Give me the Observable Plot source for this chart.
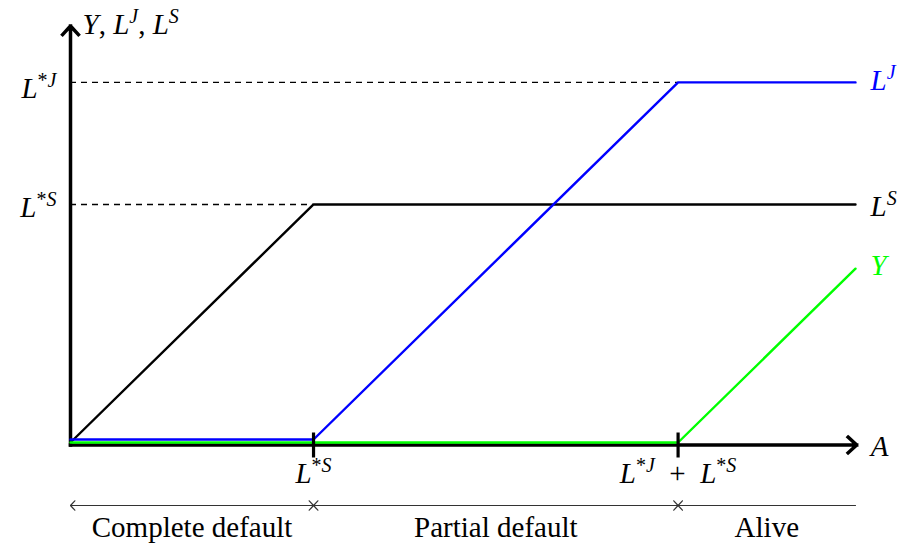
<!DOCTYPE html>
<html><head><meta charset="utf-8">
<script src="https://cdn.jsdelivr.net/npm/d3@7"></script>
<script src="https://cdn.jsdelivr.net/npm/@observablehq/plot@0.6"></script>
<style>body{margin:0;background:#fff} svg{display:block} text{white-space:pre}</style>
</head><body><div id="chart"></div>
<script>
// ---- data ----
const A_LS = [0, 1, 3.23];
const LS   = [0, 1, 1];
const A_LJ = [0, 1, 2.5, 3.23];
const LJ   = [0, 0, 1.5, 1.5];
const A_Y  = [0, 2.5, 3.23];
const Yv   = [0, 0, 0.73];
const seriesNames = ["L^{S}", "L^{J}", "Y"];
const xTickValues = [1, 2.5];
const xTickLabels = ["L^{*S}", "L^{*J} + L^{*S}"];
const yLevelValues  = [1.5, 1];
const yLevelCorners = [2.5, 1];
const yLevelLabels  = ["L^{*J}", "L^{*S}"];
const regionBounds = [0, 1, 2.5, 3.23];
const regionLabels = ["Complete default", "Partial default", "Alive"];
const xAxisExtent = [0, 3.235];
const yAxisExtent = [0, 1.76];
const xAxisLabel = "A";
const yAxisLabel = "Y, L^{J}, L^{S}";

// ---- derived tables ----
const toPts = (xs, ys) => xs.map((x, i) => ({x, y: ys[i]}));
const series = [
  {name: seriesNames[0], pts: toPts(A_LS, LS), color: "#000000", dy: 0, labelDy: 2},
  {name: seriesNames[2], pts: toPts(A_Y, Yv), color: "#00ff00", dy: 0, labelDy: -3},
  {name: seriesNames[1], pts: toPts(A_LJ, LJ), color: "#0000ff", dy: -3, labelDy: -2}
];
const levels = yLevelValues.map((v, i) => ({value: v, corner: yLevelCorners[i], label: yLevelLabels[i], dy: i === 0 ? -3 : 0}));
const ticks = xTickValues.map((v, i) => ({x: v, label: xTickLabels[i]}));
const regions = regionLabels.map((l, i) => ({x1: regionBounds[i], x2: regionBounds[i + 1], label: l, last: i === regionLabels.length - 1}));

const FONT = 29, SUP_SIZE = 20, SUP_SHIFT = 11;

const vtick = {draw(ctx) { ctx.moveTo(0, -12.5); ctx.lineTo(0, 12.5); }};

const marks = [];
// axes
marks.push(Plot.arrow([0], {x1: xAxisExtent[0], x2: xAxisExtent[1], y1: 0, y2: 0, dy: 2.5,
  stroke: "black", strokeWidth: 3.5, headLength: 5, headAngle: 85, strokeLinecap: "square"}));
marks.push(Plot.arrow([0], {x1: 0, x2: 0, y1: yAxisExtent[0], y2: yAxisExtent[1], dy: 2.5,
  stroke: "black", strokeWidth: 3.5, headLength: 5, headAngle: 85, strokeLinecap: "square"}));
// dashed guide lines
levels.forEach(l => marks.push(Plot.ruleY([l], {y: "value", x1: 0, x2: "corner", dy: l.dy,
  stroke: "black", strokeWidth: 1.4, strokeDasharray: "6,5"})));
// series lines
series.forEach(s => marks.push(Plot.line(s.pts, {x: "x", y: "y", dy: s.dy, stroke: s.color,
  strokeWidth: 2.4, strokeLinejoin: "miter"})));
// tick marks on x axis
marks.push(Plot.dot(ticks, {x: "x", y: 0, dy: 2.5, symbol: vtick, stroke: "black", strokeWidth: 3.2, fill: "none"}));
// series end labels
series.forEach(s => marks.push(Plot.text([s.pts[s.pts.length - 1]], {x: "x", y: "y", text: () => s.name,
  textAnchor: "start", dx: 15, dy: s.labelDy + s.dy, fill: s.color, fontSize: FONT, className: "math"})));
// y level labels
marks.push(Plot.text(levels, {x: 0, y: "value", text: "label", textAnchor: "end", dx: -14, dy: 3,
  fill: "black", fontSize: FONT, className: "math"}));
// x tick labels
marks.push(Plot.text(ticks, {x: "x", y: 0, text: "label", textAnchor: "middle", dy: 31,
  fill: "black", fontSize: FONT, className: "math"}));
// axis labels
marks.push(Plot.text([xAxisLabel], {x: xAxisExtent[1], y: 0, text: d => d, textAnchor: "start", dx: 14, dy: 4,
  fill: "black", fontSize: FONT, className: "math"}));
marks.push(Plot.text([yAxisLabel], {x: 0, y: yAxisExtent[1], text: d => d, textAnchor: "start", dx: 12, dy: 1,
  fill: "black", fontSize: FONT, className: "math"}));
// region brackets: heads at starts (all), heads at ends (all but last)
marks.push(Plot.arrow(regions, {x1: "x2", x2: "x1", y1: 0, y2: 0, dy: 63,
  stroke: "#333", strokeWidth: 1.2, headLength: 8, headAngle: 95}));
marks.push(Plot.arrow(regions.filter(r => !r.last), {x1: "x1", x2: "x2", y1: 0, y2: 0, dy: 63,
  stroke: "#333", strokeWidth: 1.2, headLength: 8, headAngle: 95}));
marks.push(Plot.text(regions, {x: d => (d.x1 + d.x2) / 2, y: 0, text: "label", textAnchor: "middle", dy: 85,
  fill: "black", fontSize: FONT}));

const chart = Plot.plot({
  width: 907, height: 552,
  marginLeft: 70, marginRight: 52, marginTop: 23, marginBottom: 110,
  x: {domain: [0, 3.23], axis: null},
  y: {domain: [0, 1.76], axis: null},
  style: {fontFamily: "'Liberation Serif', serif", fontSize: FONT + "px", background: "white", overflow: "visible"},
  marks
});

function renderMath(svg) {
  const NS = "http://www.w3.org/2000/svg";
  svg.querySelectorAll("g.math text").forEach(t => {
    const s = t.textContent;
    while (t.firstChild) t.removeChild(t.firstChild);
    const re = /\^\{([^}]*)\}|[^\^]+/g;
    let m, raised = false;
    while ((m = re.exec(s))) {
      const sup = m[1] !== undefined;
      const str = sup ? m[1] : m[0];
      const runs = str.match(/[A-Za-z]+|[^A-Za-z]+/g) || [];
      runs.forEach((r, i) => {
        const ts = document.createElementNS(NS, "tspan");
        ts.textContent = r.replace(/ \+ /g, "\u2002+\u2002").replace(/, /g, ",\u2005");
        if (/[A-Za-z]/.test(r)) ts.setAttribute("font-style", "italic");
        if (sup) ts.setAttribute("font-size", SUP_SIZE);
        if (i === 0) {
          if (sup && !raised) { ts.setAttribute("dy", -SUP_SHIFT); raised = true; }
          else if (!sup && raised) { ts.setAttribute("dy", SUP_SHIFT); raised = false; }
        }
        t.appendChild(ts);
      });
    }
  });
}
renderMath(chart);
document.getElementById("chart").appendChild(chart);
</script>
</body></html>
